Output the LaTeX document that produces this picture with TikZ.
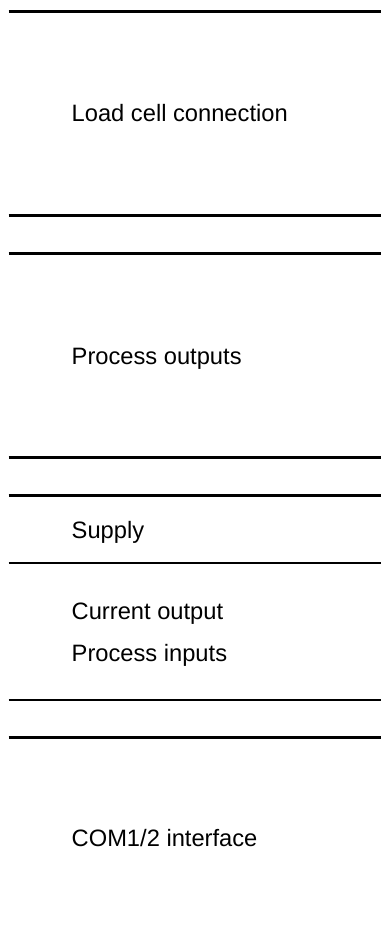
\documentclass[tikz,border=0pt]{standalone}
\usepackage{fontspec}
\setmainfont{Liberation Sans}
\begin{document}
\begin{tikzpicture}[x=1pt,y=-1pt,
  rule/.style={line width=2.3pt},
  lbl/.style={anchor=base west,inner sep=0pt,font=\fontsize{23.7}{28}\selectfont}]
\useasboundingbox (0,0) rectangle (381,938);
\foreach \n/\y in {a/11.5,b/215.5,c/253.5,d/457.5,e/495.5,f/563,g/700,h/737.5}{
  \coordinate (\n l) at (8.5,\y);
  \coordinate (\n r) at (381,\y);
  \draw[rule] (\n l) -- (\n r);
}
\node[lbl] (t1) at (71.5,121.7) {Load cell connection};
\node[lbl] (t2) at (71.5,364.3) {Process outputs};
\node[lbl] (t3) at (71.5,538.3) {Supply};
\node[lbl] (t4) at (71.5,619) {Current output};
\node[lbl] (t5) at (71.5,661.7) {Process inputs};
\node[lbl] (t6) at (71.5,846.7) {COM1/2 interface};
\end{tikzpicture}
\end{document}
